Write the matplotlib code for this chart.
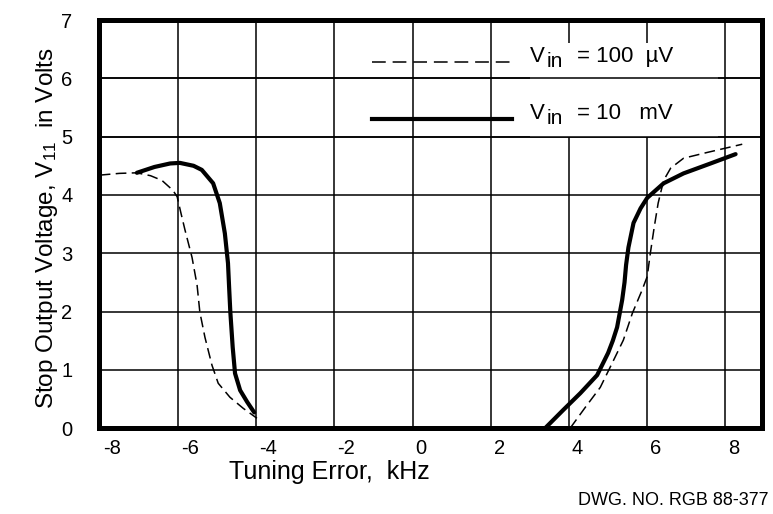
import numpy as np
import matplotlib
matplotlib.use('Agg')
import matplotlib.pyplot as plt
from matplotlib.patches import Rectangle
import matplotlib.transforms as mtransforms

plt.rcParams['font.family'] = ['Liberation Sans', 'DejaVu Sans']
plt.rcParams['mathtext.fontset'] = 'custom'
plt.rcParams['mathtext.rm'] = 'Liberation Sans'
plt.rcParams['mathtext.it'] = 'Liberation Sans'
plt.rcParams['mathtext.default'] = 'regular'

# Vin = 100 uV (dashed)
low_left_x = [-8.0, -7.5, -7.05, -6.7, -6.41, -6.13, -6.02, -5.92, -5.82, -5.64, -5.51,
              -5.44, -5.31, -5.13, -4.97, -4.67, -4.33, -3.98]
low_left_y = [4.34, 4.37, 4.38, 4.33, 4.25, 4.08, 3.97, 3.68, 3.40, 2.93, 2.45,
              1.99, 1.56, 1.08, 0.77, 0.53, 0.34, 0.17]
low_right_x = [4.03, 4.42, 4.8, 5.1, 5.39, 5.62, 5.87, 6.0, 6.08, 6.18, 6.28, 6.42, 6.6,
               6.93, 7.54, 8.43]
low_right_y = [0.0, 0.36, 0.70, 1.11, 1.51, 1.97, 2.37, 2.6, 3.0, 3.45, 3.86, 4.25, 4.46,
               4.63, 4.73, 4.87]

# Vin = 10 mV (solid)
high_left_x = [-7.05, -6.6, -6.2, -5.95, -5.6, -5.39, -5.1, -4.93, -4.8, -4.72, -4.69,
               -4.66, -4.6, -4.54, -4.41, -4.23, -4.05]
high_left_y = [4.38, 4.48, 4.54, 4.55, 4.50, 4.43, 4.20, 3.86, 3.34, 2.83, 2.40,
               1.99, 1.39, 0.94, 0.65, 0.45, 0.27]
high_right_x = [3.39, 3.85, 4.29, 4.72, 5.0, 5.12, 5.23, 5.36, 5.42, 5.46, 5.52, 5.65,
                5.83, 6.0, 6.42, 6.93, 7.62, 8.26]
high_right_y = [0.0, 0.31, 0.60, 0.91, 1.29, 1.50, 1.73, 2.20, 2.50, 2.80, 3.10, 3.52,
                3.77, 3.95, 4.20, 4.37, 4.54, 4.70]

xticks = [-8, -6, -4, -2, 0, 2, 4, 6, 8]
yticks = [0, 1, 2, 3, 4, 5, 6, 7]
legend_text = ['= 100  µV', '= 10   mV']

fig = plt.figure(figsize=(7.73, 5.14), dpi=100)
ax = fig.add_axes([0.128, 0.167, 0.858, 0.794])
ax.set_xlim(-8.02, 8.94)
ax.set_ylim(0, 7)

# grid
ax.set_axisbelow(True)
ax.grid(True, color='black', lw=1.1)
# legend box hides part of the vertical grid
ax.add_patch(Rectangle((3.0, 5.0), 4.8, 1.6, fc='white', ec='none', zorder=0.8))
ax.axhline(6, color='black', lw=1.1, zorder=0.9)
ax.axhline(5, color='black', lw=1.1, zorder=0.9)

dash = (7, 3.5)
ax.plot(low_left_x, low_left_y, color='black', lw=1.1, ls=(0, dash), zorder=3)
ax.plot(low_right_x, low_right_y, color='black', lw=1.1, ls=(0, dash), zorder=3)
ax.plot(high_left_x, high_left_y, color='black', lw=3.0, solid_capstyle='round',
        solid_joinstyle='round', zorder=4)
ax.plot(high_right_x, high_right_y, color='black', lw=3.0, solid_capstyle='round',
        solid_joinstyle='round', zorder=4)

# legend drawn by hand
ax.plot([-1.03, 2.55], [6.28, 6.28], color='black', lw=1.1, ls=(0, (9, 4.5)), zorder=3)
ax.plot([-1.03, 2.55], [5.31, 5.31], color='black', lw=3.0, zorder=3)
for yy, txt in zip([6.28, 5.31], legend_text):
    ax.text(3.01, yy, 'V', fontsize=16, va='baseline', zorder=5)
    ax.text(3.42, yy - 0.09, 'in', fontsize=15, va='baseline', zorder=5)
    ax.text(4.2, yy, txt, fontsize=16, va='baseline', zorder=5)

ax.set_xticks(xticks)
ax.set_xticklabels([str(t) for t in xticks])
ax.set_yticks(yticks)
ax.tick_params(length=0, labelsize=14.5)
ax.tick_params(axis='x', pad=8)
ax.tick_params(axis='y', pad=19)
shift = mtransforms.ScaledTranslation(3 / 100, 0, fig.dpi_scale_trans)
for lab in ax.get_xticklabels():
    lab.set_horizontalalignment('left')
    lab.set_transform(lab.get_transform() + shift)

for s in ax.spines.values():
    s.set_linewidth(3.6)

fig.text(53 / 773, 1 - 228 / 514, r'Stop Output Voltage, V$_{11}$  in Volts', rotation=90,
         rotation_mode='anchor', ha='center', va='baseline', fontsize=17.5)
fig.text(329 / 773, 1 - 479 / 514, 'Tuning Error,  kHz', ha='center', va='baseline', fontsize=18)
fig.text(768 / 773, 1 - 505 / 514, 'DWG. NO. RGB 88-377', ha='right', va='baseline', fontsize=13)

fig.savefig('out.png', dpi=100)
